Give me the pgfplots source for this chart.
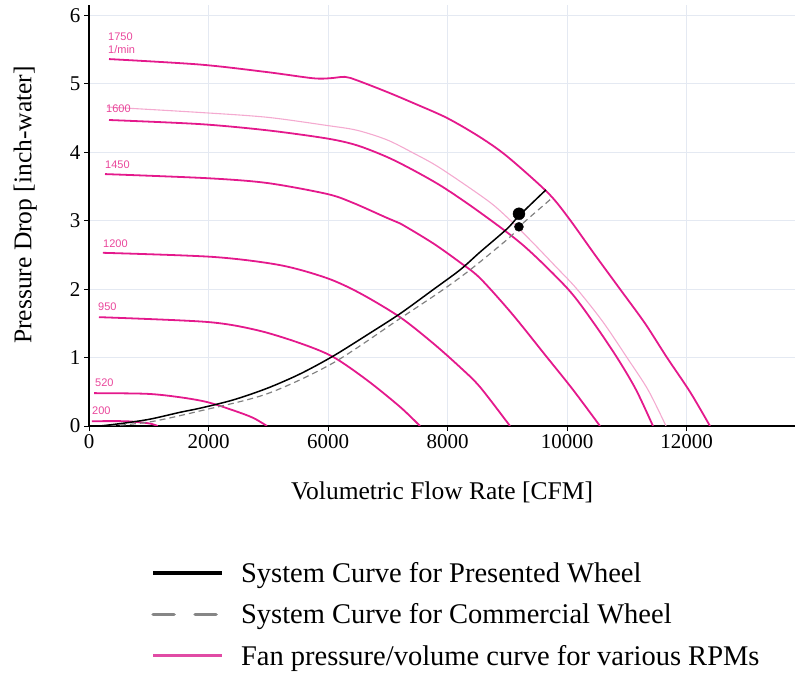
\documentclass[border=0pt]{standalone}
\usepackage{fontspec}
\setmainfont{Liberation Serif}
\newfontfamily\lsans{Liberation Sans}
\usepackage{pgfplots}
\pgfplotsset{compat=1.18}
\definecolor{fanpink}{RGB}{228,25,140}
\definecolor{fanlight}{RGB}{244,170,208}
\definecolor{lblpink}{RGB}{233,70,155}
\definecolor{gridc}{RGB}{228,233,242}
\definecolor{legpink}{RGB}{225,75,165}
\begin{document}
\begin{tikzpicture}
\useasboundingbox (0,0) rectangle (796bp,678bp);
\begin{axis}[
 at={(89bp,252bp)}, anchor=south west,
 scale only axis, width=706bp, height=421bp,
 xmin=0, xmax=11816, ymin=0, ymax=6.15,
 axis x line=bottom, axis y line=left,
 axis line style={-, line width=2.4bp, black},
 xtick={0,2000,4000,6000,8000,10000},
 xticklabels={0,2000,6000,8000,10000,12000},
 ytick={0,1,2,3,4,5,6},
 grid=major, grid style={gridc, line width=1bp},
 tick style={black, line width=0.8bp},
 major tick length=5bp, tick align=outside,
 /pgf/number format/assume math mode=true,
 ticklabel style={font=\fontsize{21bp}{23bp}\selectfont},
 scaled x ticks=false,
 xlabel={Volumetric Flow Rate [CFM]},
 ylabel={Pressure Drop [inch-water]},
 label style={font=\fontsize{25.5bp}{27bp}\selectfont, inner sep=0pt},
 xlabel style={at={(axis description cs:0.5,0)}, anchor=north, yshift=-56bp},
 ylabel style={at={(axis description cs:0,0.525)}, anchor=south, yshift=52bp},
 legend style={draw=none, fill=none, at={(axis description cs:0.088,-0.318)}, anchor=north west,
   font=\fontsize{28.5bp}{30bp}\selectfont, row sep=16bp, inner sep=0pt,
   nodes={inner sep=2pt}},
 legend cell align=left,
 legend image code/.code={\draw[#1] (0bp,0bp) -- (69bp,0bp); \path[draw=none] (0bp,0bp) -- (86bp,0bp);},
]
% fan curves
\addplot[fanlight, line width=1.1bp, smooth, forget plot] coordinates {(301,4.66)(1858,4.58)(2979,4.51)(3983,4.39)(4485,4.32)(4987,4.18)(5422,3.99)(5874,3.77)(6661,3.30)(6996,3.05)(7381,2.72)(7799,2.34)(8167,2.00)(8602,1.52)(9004,1.00)(9355,0.53)(9657,0)};
\addplot[fanpink, line width=1.8bp, smooth, forget plot] coordinates {(335,5.36)(1858,5.28)(2979,5.17)(3749,5.08)(4033,5.08)(4284,5.10)(4485,5.05)(4987,4.88)(5422,4.72)(5991,4.50)(6544,4.22)(6996,3.94)(7665,3.42)(8000,3.07)(8468,2.50)(8887,2.00)(9305,1.50)(9673,1.00)(10058,0.50)(10393,0)};
\addplot[fanpink, line width=1.8bp, smooth, forget plot] coordinates {(335,4.47)(1858,4.41)(2979,4.32)(3983,4.20)(4485,4.10)(4987,3.93)(5422,3.74)(5924,3.49)(6544,3.12)(7280,2.63)(8017,2.00)(8435,1.52)(8837,1.00)(9155,0.53)(9439,0)};
\addplot[fanpink, line width=1.8bp, smooth, forget plot] coordinates {(268,3.68)(1975,3.62)(2979,3.55)(3983,3.39)(4418,3.26)(4987,3.04)(5205,2.96)(5757,2.67)(6209,2.39)(6544,2.16)(7079,1.64)(7632,1.04)(8100,0.53)(8552,0)};
\addplot[fanpink, line width=1.8bp, smooth, forget plot] coordinates {(234,2.53)(2075,2.47)(3197,2.35)(3983,2.16)(4535,1.94)(5205,1.59)(5757,1.21)(6209,0.86)(6544,0.57)(7046,0)};
\addplot[fanpink, line width=1.8bp, smooth, forget plot] coordinates {(167,1.59)(1975,1.52)(2812,1.40)(3531,1.21)(4084,1.01)(4653,0.67)(5205,0.28)(5540,0)};
\addplot[fanpink, line width=1.8bp, smooth, forget plot] coordinates {(84,0.48)(971,0.47)(1523,0.42)(1975,0.35)(2410,0.23)(2745,0.12)(2979,0)};
\addplot[fanpink, line width=1.8bp, smooth, forget plot] coordinates {(50,0.07)(600,0.07)(900,0.05)(1050,0.03)(1150,0)};
% system curves
\addplot[gray, line width=1.2bp, dash pattern=on 6bp off 4bp, smooth, forget plot] coordinates {(351,0)(1021,0.06)(1858,0.22)(2979,0.47)(4084,0.92)(5205,1.57)(5874,1.96)(6377,2.28)(7046,2.76)(7196,2.91)(7749,3.33)};
\addplot[black, line width=1.5bp, smooth, forget plot] coordinates {(184,0)(569,0.04)(1021,0.10)(1523,0.20)(1858,0.26)(2410,0.38)(2979,0.55)(3531,0.76)(4084,1.02)(4653,1.33)(5205,1.64)(5757,1.99)(6209,2.28)(6544,2.54)(6996,2.88)(7196,3.07)(7648,3.45)};
\addplot[only marks, mark=*, mark size=6bp, black, forget plot] coordinates {(7196,3.10)};
\addplot[only marks, mark=*, mark size=4.5bp, black, forget plot] coordinates {(7196,2.91)};
% labels
\tikzset{rpm/.style={anchor=west, inner sep=0pt, text=lblpink, font=\lsans\fontsize{11bp}{12bp}\selectfont}}
\node[rpm] at (axis cs:318,5.69) {1750};
\node[rpm] at (axis cs:318,5.50) {1/min};
\node[rpm] at (axis cs:285,4.63) {1600};
\node[rpm] at (axis cs:268,3.82) {1450};
\node[rpm] at (axis cs:234,2.67) {1200};
\node[rpm] at (axis cs:151,1.74) {950};
\node[rpm] at (axis cs:100,0.63) {520};
\node[rpm] at (axis cs:50,0.23) {200};
% legend
\addlegendimage{black, line width=3.5bp}
\addlegendentry{System Curve for Presented Wheel}
\addlegendimage{gray!95, line width=3.5bp, line cap=round, dash pattern=on 21bp off 21bp}
\addlegendentry{System Curve for Commercial Wheel}
\addlegendimage{legpink, line width=3bp}
\addlegendentry{Fan pressure/volume curve for various RPMs}
\end{axis}
\end{tikzpicture}
\end{document}
